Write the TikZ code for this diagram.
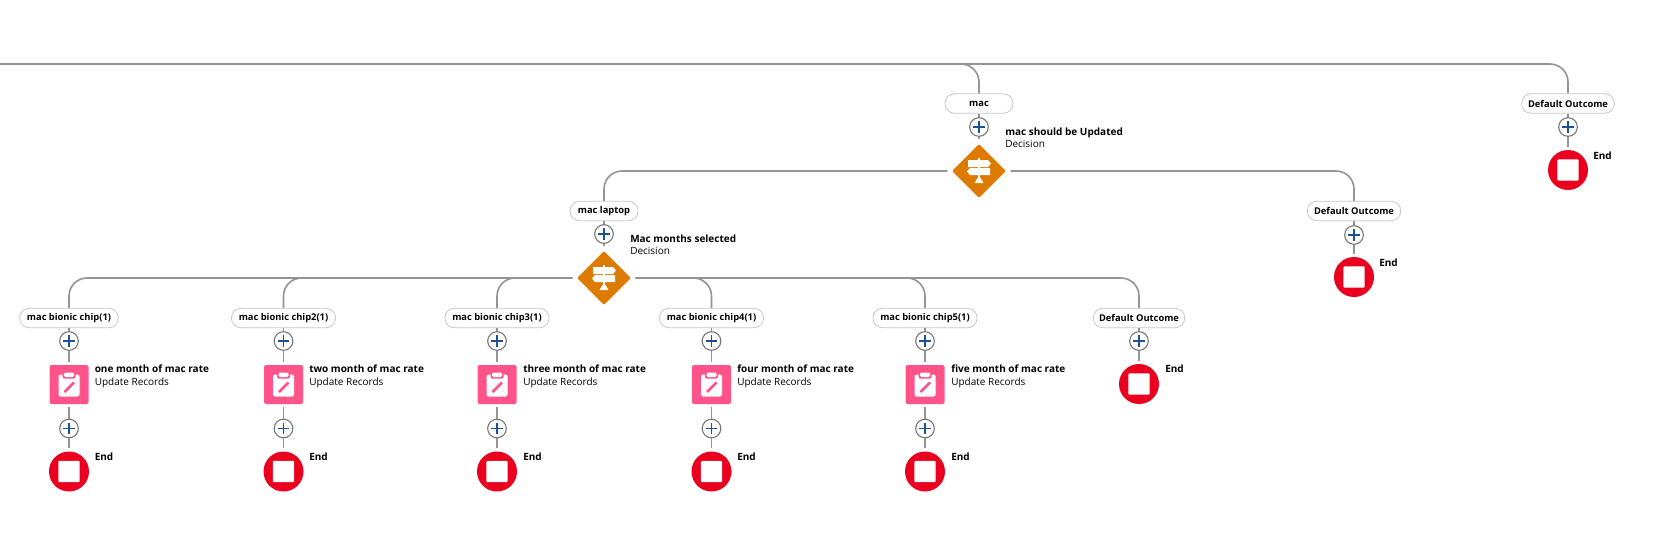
\documentclass[tikz,border=0pt]{standalone}
\usepackage{fontspec}
\setmainfont{Open Sans}
\usetikzlibrary{shapes.geometric}

\definecolor{flowgray}{HTML}{969492}
\definecolor{pillgray}{HTML}{C9C7C5}
\definecolor{ringgray}{HTML}{747474}
\definecolor{plusblue}{HTML}{1B5297}
\definecolor{decorange}{HTML}{DD7A01}
\definecolor{recpink}{HTML}{FF538A}
\definecolor{endred}{HTML}{EA001E}

\tikzset{
    flowline/.style={draw=flowgray, line width=1.2pt, rounded corners=13.5pt},
    pill/.style={draw=pillgray, line width=0.6pt, fill=white, rounded corners=7pt, minimum height=14.5pt, inner sep=0pt, font=\fontsize{7}{8}\selectfont\bfseries},
    addbtn/.style={circle, draw=ringgray, line width=0.8pt, fill=white, minimum size=14pt, inner sep=0pt, path picture={
        \draw[plusblue, line width=1.1pt] ([xshift=-4.2pt]path picture bounding box.center) -- ([xshift=4.2pt]path picture bounding box.center);
        \draw[plusblue, line width=1.1pt] ([yshift=-4.2pt]path picture bounding box.center) -- ([yshift=4.2pt]path picture bounding box.center);}},
    decision/.style={diamond, aspect=1, fill=decorange, rounded corners=1pt, minimum size=42.5pt, inner sep=0pt, outer sep=2.5pt},
    record/.style={rectangle, fill=recpink, rounded corners=1.5pt, minimum size=29.25pt, inner sep=0pt, outer sep=2.5pt},
    endstop/.style={circle, fill=endred, minimum size=30pt, inner sep=0pt, outer sep=2.5pt, path picture={
        \fill[white, rounded corners=0.8pt] ([xshift=-8pt,yshift=-8pt]path picture bounding box.center) rectangle ([xshift=8pt,yshift=8pt]path picture bounding box.center);}},
    caption/.style={anchor=north west, inner sep=0pt, align=left, font=\fontsize{7.5}{9.4}\selectfont},
    upright/.style={yscale=-1},
    signpost/.pic={
        \fill[white] (-0.75,-13) rectangle (0.75,8);
        \fill[white] (-11,-11) -- (9,-11) -- (12,-7.5) -- (9,-4) -- (-11,-4) -- cycle;
        \fill[white] (11,-3) -- (-9,-3) -- (-12,0.5) -- (-9,4) -- (11,4) -- cycle;
        \fill[white] (-4.5,12) -- (-1.5,7) -- (1.5,7) -- (4.5,12) -- cycle;
    },
    clipboard/.pic={
        \fill[white, rounded corners=1.5pt] (-10.5,-10) rectangle (10.5,12);
        \fill[recpink, rounded corners=1pt] (-6.5,-13) rectangle (6.5,-6);
        \fill[white, rounded corners=1pt] (-5,-12) rectangle (5,-7.5);
        \draw[recpink, line width=2pt] (-4.5,7.5) -- (5,-2);
    },
}

\begin{document}
\begin{tikzpicture}[x=0.75pt,y=0.75pt,yscale=-1,xscale=1]
    \useasboundingbox (0,0) rectangle (1665,533);
    \fill[white] (0,0) rectangle (1665,533);

    % Top branch
    \coordinate (topstart) at (0,64);
    \node[pill, minimum width=51pt] (mac) at (979,103.5) {mac};
    \node[addbtn] (addmac) at (979,127) {};
    \node[decision] (macdec) at (979,171) {};
    \pic[upright] at (macdec) {signpost};
    \node[caption] (mactxt) at (1005,127.5) {\textbf{mac should be Updated}\\Decision};

    \node[pill, minimum width=69.5pt] (topdef) at (1568,103.5) {Default Outcome};
    \node[addbtn] (addtopdef) at (1568,127) {};
    \node[endstop] (topend) at (1568,170) {};
    \node[caption] (topendtxt) at (1593,151.5) {\textbf{End}};

    % Second level
    \node[pill, minimum width=51pt] (laptop) at (604,211) {mac laptop};
    \node[addbtn] (addlaptop) at (604,234) {};
    \node[decision] (monthdec) at (604,278) {};
    \pic[upright] at (monthdec) {signpost};
    \node[caption] (monthtxt) at (630,234.5) {\textbf{Mac months selected}\\Decision};

    \node[pill, minimum width=70pt] (macdef) at (1354,211) {Default Outcome};
    \node[addbtn] (addmacdef) at (1354,235) {};
    \node[endstop] (macend) at (1354,277) {};
    \node[caption] (macendtxt) at (1379,258.5) {\textbf{End}};

    % Chip 1
    \node[pill, minimum width=74pt] (chipa) at (69,318) {mac bionic chip(1)};
    \node[addbtn] (addchipa) at (69,341) {};
    \node[record] (reca) at (69,384.5) {};
    \pic[upright] at (reca) {clipboard};
    \node[caption] (recatxt) at (94.5,365) {\textbf{one month of mac rate}\\Update Records};
    \node[addbtn] (addreca) at (69,428.5) {};
    \node[endstop] (enda) at (69,471.5) {};
    \node[caption] (endatxt) at (94.5,453) {\textbf{End}};

    % Chip 2
    \node[pill, minimum width=78pt] (chipb) at (283.5,318) {mac bionic chip2(1)};
    \node[addbtn] (addchipb) at (283.5,341) {};
    \node[record] (recb) at (283.5,384.5) {};
    \pic[upright] at (recb) {clipboard};
    \node[caption] (recbtxt) at (309,365) {\textbf{two month of mac rate}\\Update Records};
    \node[addbtn] (addrecb) at (283.5,428.5) {};
    \node[endstop] (endb) at (283.5,471.5) {};
    \node[caption] (endbtxt) at (309,453) {\textbf{End}};

    % Chip 3
    \node[pill, minimum width=78pt] (chipc) at (497,318) {mac bionic chip3(1)};
    \node[addbtn] (addchipc) at (497,341) {};
    \node[record] (recc) at (497,384.5) {};
    \pic[upright] at (recc) {clipboard};
    \node[caption] (recctxt) at (523,365) {\textbf{three month of mac rate}\\Update Records};
    \node[addbtn] (addrecc) at (497,428.5) {};
    \node[endstop] (endc) at (497,471.5) {};
    \node[caption] (endctxt) at (523,453) {\textbf{End}};

    % Chip 4
    \node[pill, minimum width=78pt] (chipd) at (711.5,318) {mac bionic chip4(1)};
    \node[addbtn] (addchipd) at (711.5,341) {};
    \node[record] (recd) at (711.5,384.5) {};
    \pic[upright] at (recd) {clipboard};
    \node[caption] (recdtxt) at (737,365) {\textbf{four month of mac rate}\\Update Records};
    \node[addbtn] (addrecd) at (711.5,428.5) {};
    \node[endstop] (endd) at (711.5,471.5) {};
    \node[caption] (enddtxt) at (737,453) {\textbf{End}};

    % Chip 5
    \node[pill, minimum width=78pt] (chipe) at (925,318) {mac bionic chip5(1)};
    \node[addbtn] (addchipe) at (925,341) {};
    \node[record] (rece) at (925,384.5) {};
    \pic[upright] at (rece) {clipboard};
    \node[caption] (recetxt) at (951,365) {\textbf{five month of mac rate}\\Update Records};
    \node[addbtn] (addrece) at (925,428.5) {};
    \node[endstop] (ende) at (925,471.5) {};
    \node[caption] (endetxt) at (951,453) {\textbf{End}};

    % Default of the months decision
    \node[pill, minimum width=68.5pt] (monthdef) at (1139,318) {Default Outcome};
    \node[addbtn] (addmonthdef) at (1139,341) {};
    \node[endstop] (monthend) at (1139,384) {};
    \node[caption] (monthendtxt) at (1165,365) {\textbf{End}};

    % Connectors
    \draw[flowline] (topstart) -| (mac);
    \draw[flowline] (topstart) -| (topdef);
    \draw[flowline] (mac) -- (addmac);
    \draw[flowline] (addmac) -- (macdec);
    \draw[flowline] (topdef) -- (addtopdef);
    \draw[flowline] (addtopdef) -- (topend);
    \draw[flowline] (macdec.west) -| (laptop);
    \draw[flowline] (macdec.east) -| (macdef);
    \draw[flowline] (laptop) -- (addlaptop);
    \draw[flowline] (addlaptop) -- (monthdec);
    \draw[flowline] (macdef) -- (addmacdef);
    \draw[flowline] (addmacdef) -- (macend);
    \draw[flowline] (monthdec.west) -| (chipa);
    \draw[flowline] (monthdec.west) -| (chipb);
    \draw[flowline] (monthdec.west) -| (chipc);
    \draw[flowline] (monthdec.east) -| (chipd);
    \draw[flowline] (monthdec.east) -| (chipe);
    \draw[flowline] (monthdec.east) -| (monthdef);
    \draw[flowline] (monthdef) -- (addmonthdef);
    \draw[flowline] (addmonthdef) -- (monthend);
    \draw[flowline] (chipa) -- (addchipa);
    \draw[flowline] (addchipa) -- (reca);
    \draw[flowline] (reca) -- (addreca);
    \draw[flowline] (addreca) -- (enda);
    \draw[flowline] (chipb) -- (addchipb);
    \draw[flowline] (addchipb) -- (recb);
    \draw[flowline] (recb) -- (addrecb);
    \draw[flowline] (addrecb) -- (endb);
    \draw[flowline] (chipc) -- (addchipc);
    \draw[flowline] (addchipc) -- (recc);
    \draw[flowline] (recc) -- (addrecc);
    \draw[flowline] (addrecc) -- (endc);
    \draw[flowline] (chipd) -- (addchipd);
    \draw[flowline] (addchipd) -- (recd);
    \draw[flowline] (recd) -- (addrecd);
    \draw[flowline] (addrecd) -- (endd);
    \draw[flowline] (chipe) -- (addchipe);
    \draw[flowline] (addchipe) -- (rece);
    \draw[flowline] (rece) -- (addrece);
    \draw[flowline] (addrece) -- (ende);
\end{tikzpicture}
\end{document}
